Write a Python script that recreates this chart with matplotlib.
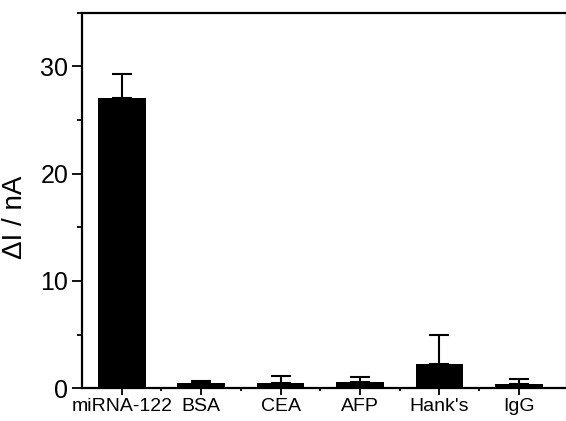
import numpy as np
import matplotlib.pyplot as plt
from matplotlib.ticker import MultipleLocator, FixedLocator

plt.rcParams['font.family'] = ['Liberation Sans', 'DejaVu Sans']

# data
samples = ["miRNA-122", "BSA", "CEA", "AFP", "Hank's", "IgG"]
delta_i = [27.0, 0.45, 0.45, 0.62, 2.25, 0.4]
err = [2.3, 0.22, 0.7, 0.4, 2.75, 0.5]

fig = plt.figure(figsize=(5.66, 4.21), dpi=100)
ax = fig.add_axes([0.145, 0.078, 0.853, 0.892])

x = np.arange(len(samples))
ax.bar(x, delta_i, width=0.6, color="black", zorder=2)
ax.errorbar(x, delta_i, yerr=[np.zeros(len(err)), err], fmt="none",
            ecolor="black", elinewidth=1.5, capsize=7, capthick=1.5, zorder=3)

ax.set_xlim(-0.5, 5.58)
ax.set_ylim(0, 35)
ax.set_xticks(x)
ax.set_xticklabels(samples, fontsize=14)
ax.xaxis.set_minor_locator(FixedLocator(x[:-1] + 0.5))
ax.yaxis.set_major_locator(MultipleLocator(10))
ax.yaxis.set_minor_locator(MultipleLocator(5))

ax.tick_params(axis="x", which="major", direction="out", length=5, width=1.3, pad=2)
ax.tick_params(axis="x", which="minor", direction="out", length=2.5, width=1.3)
ax.tick_params(axis="y", which="major", direction="out", length=7, width=1.3,
               labelsize=18, pad=3)
ax.tick_params(axis="y", which="minor", direction="out", length=3.5, width=1.3)

for s in ax.spines.values():
    s.set_linewidth(1.6)
ax.spines["right"].set_linewidth(0.5)
ax.spines["right"].set_color("#dddddd")

ax.set_ylabel("ΔI / nA", fontsize=20)
ax.yaxis.set_label_coords(-0.112, 0.456)

fig.savefig("out.png", dpi=100)
